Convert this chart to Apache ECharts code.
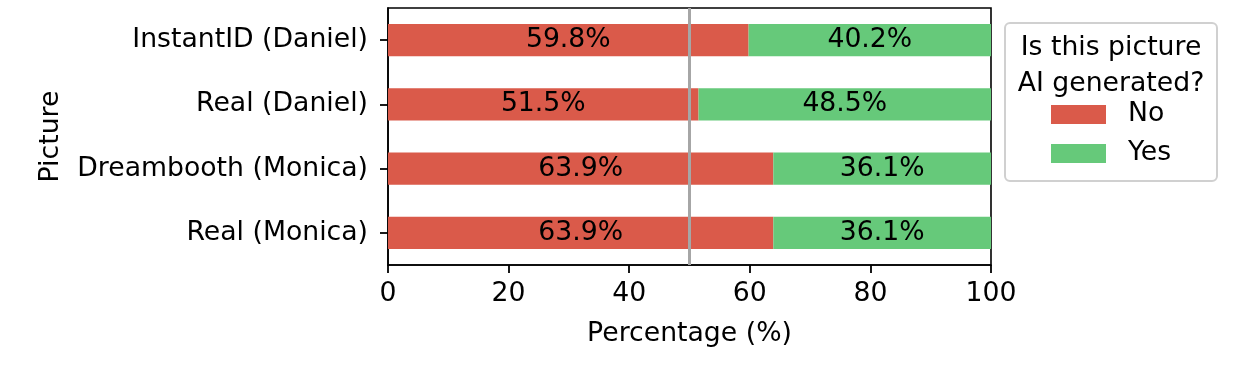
<!DOCTYPE html>
<html>
<head>
<meta charset="utf-8">
<script src="https://cdn.jsdelivr.net/npm/echarts@6/dist/echarts.min.js"></script>
<style>html,body{margin:0;padding:0;background:#fff}#c{width:1234px;height:366px}</style>
</head>
<body>
<div id="c"></div>
<script>
const categories = ['InstantID (Daniel)', 'Real (Daniel)', 'Dreambooth (Monica)', 'Real (Monica)'];
const noValues = [59.8, 51.5, 63.9, 63.9];
const yesValues = [40.2, 48.5, 36.1, 36.1];
const xTicks = [0, 20, 40, 60, 80, 100];
const refLine = 50;

const FONT = 'DejaVu Sans';
const FS = 26.7;
const chart = echarts.init(document.getElementById('c'), null, {renderer: 'canvas'});
const labelFmt = p => p.value.toFixed(1) + '%';
chart.setOption({
  animation: false,
  textStyle: {fontFamily: FONT},
  grid: {left: 388, right: 243, top: 8, bottom: 101, show: true, borderColor: '#000', borderWidth: 1.6, backgroundColor: 'transparent'},
  xAxis: {
    type: 'value', min: 0, max: 100, interval: 20,
    splitLine: {show: false},
    axisLine: {show: true, lineStyle: {color: '#000', width: 1.6}},
    axisTick: {show: true, length: 8, lineStyle: {color: '#000', width: 1.8}},
    axisLabel: {color: '#000', fontSize: FS, fontFamily: FONT, margin: 16},
    name: 'Percentage (%)', nameLocation: 'middle', nameGap: 56,
    nameTextStyle: {color: '#000', fontSize: FS, fontFamily: FONT}
  },
  yAxis: {
    type: 'category', data: categories, inverse: true,
    axisLine: {show: true, lineStyle: {color: '#000', width: 1.6}},
    axisTick: {show: true, alignWithLabel: true, length: 8, lineStyle: {color: '#000', width: 1.8}},
    axisLabel: {color: '#000', fontSize: FS, fontFamily: FONT, margin: 20},
    name: 'Picture', nameLocation: 'middle', nameGap: 323,
    nameTextStyle: {color: '#000', fontSize: FS, fontFamily: FONT}
  },
  legend: {
    orient: 'vertical', left: 1046, top: 96,
    itemWidth: 55, itemHeight: 19, itemGap: 12,
    icon: 'rect',
    textStyle: {color: '#000', fontSize: FS, fontFamily: FONT, padding: [0, 0, 0, 17]},
    data: ['No', 'Yes']
  },
  graphic: [
    {type: 'rect', shape: {x: 1005, y: 23, width: 212, height: 158, r: 5}, style: {fill: '#fff', stroke: '#d0d0d0', lineWidth: 2}, z: -1},
    {type: 'text', x: 1111, y: 48, style: {text: 'Is this picture', font: FS + 'px "' + FONT + '"', fill: '#000', align: 'center', verticalAlign: 'middle'}},
    {type: 'text', x: 1111, y: 84, style: {text: 'AI generated?', font: FS + 'px "' + FONT + '"', fill: '#000', align: 'center', verticalAlign: 'middle'}}
  ],
  series: [
    {
      name: 'No', type: 'bar', stack: 'a', data: noValues, barWidth: '50%',
      itemStyle: {color: '#da5a4a'},
      label: {show: true, position: 'inside', color: '#000', fontSize: FS, fontFamily: FONT, formatter: labelFmt},
      markLine: {
        silent: true, symbol: 'none', label: {show: false},
        lineStyle: {color: '#a6a6a6', width: 3, type: 'solid'},
        data: [{xAxis: refLine}], z: 10
      }
    },
    {
      name: 'Yes', type: 'bar', stack: 'a', data: yesValues, barWidth: '50%',
      itemStyle: {color: '#66c97a'},
      label: {show: true, position: 'inside', color: '#000', fontSize: FS, fontFamily: FONT, formatter: labelFmt}
    }
  ]
});
</script>
</body>
</html>
